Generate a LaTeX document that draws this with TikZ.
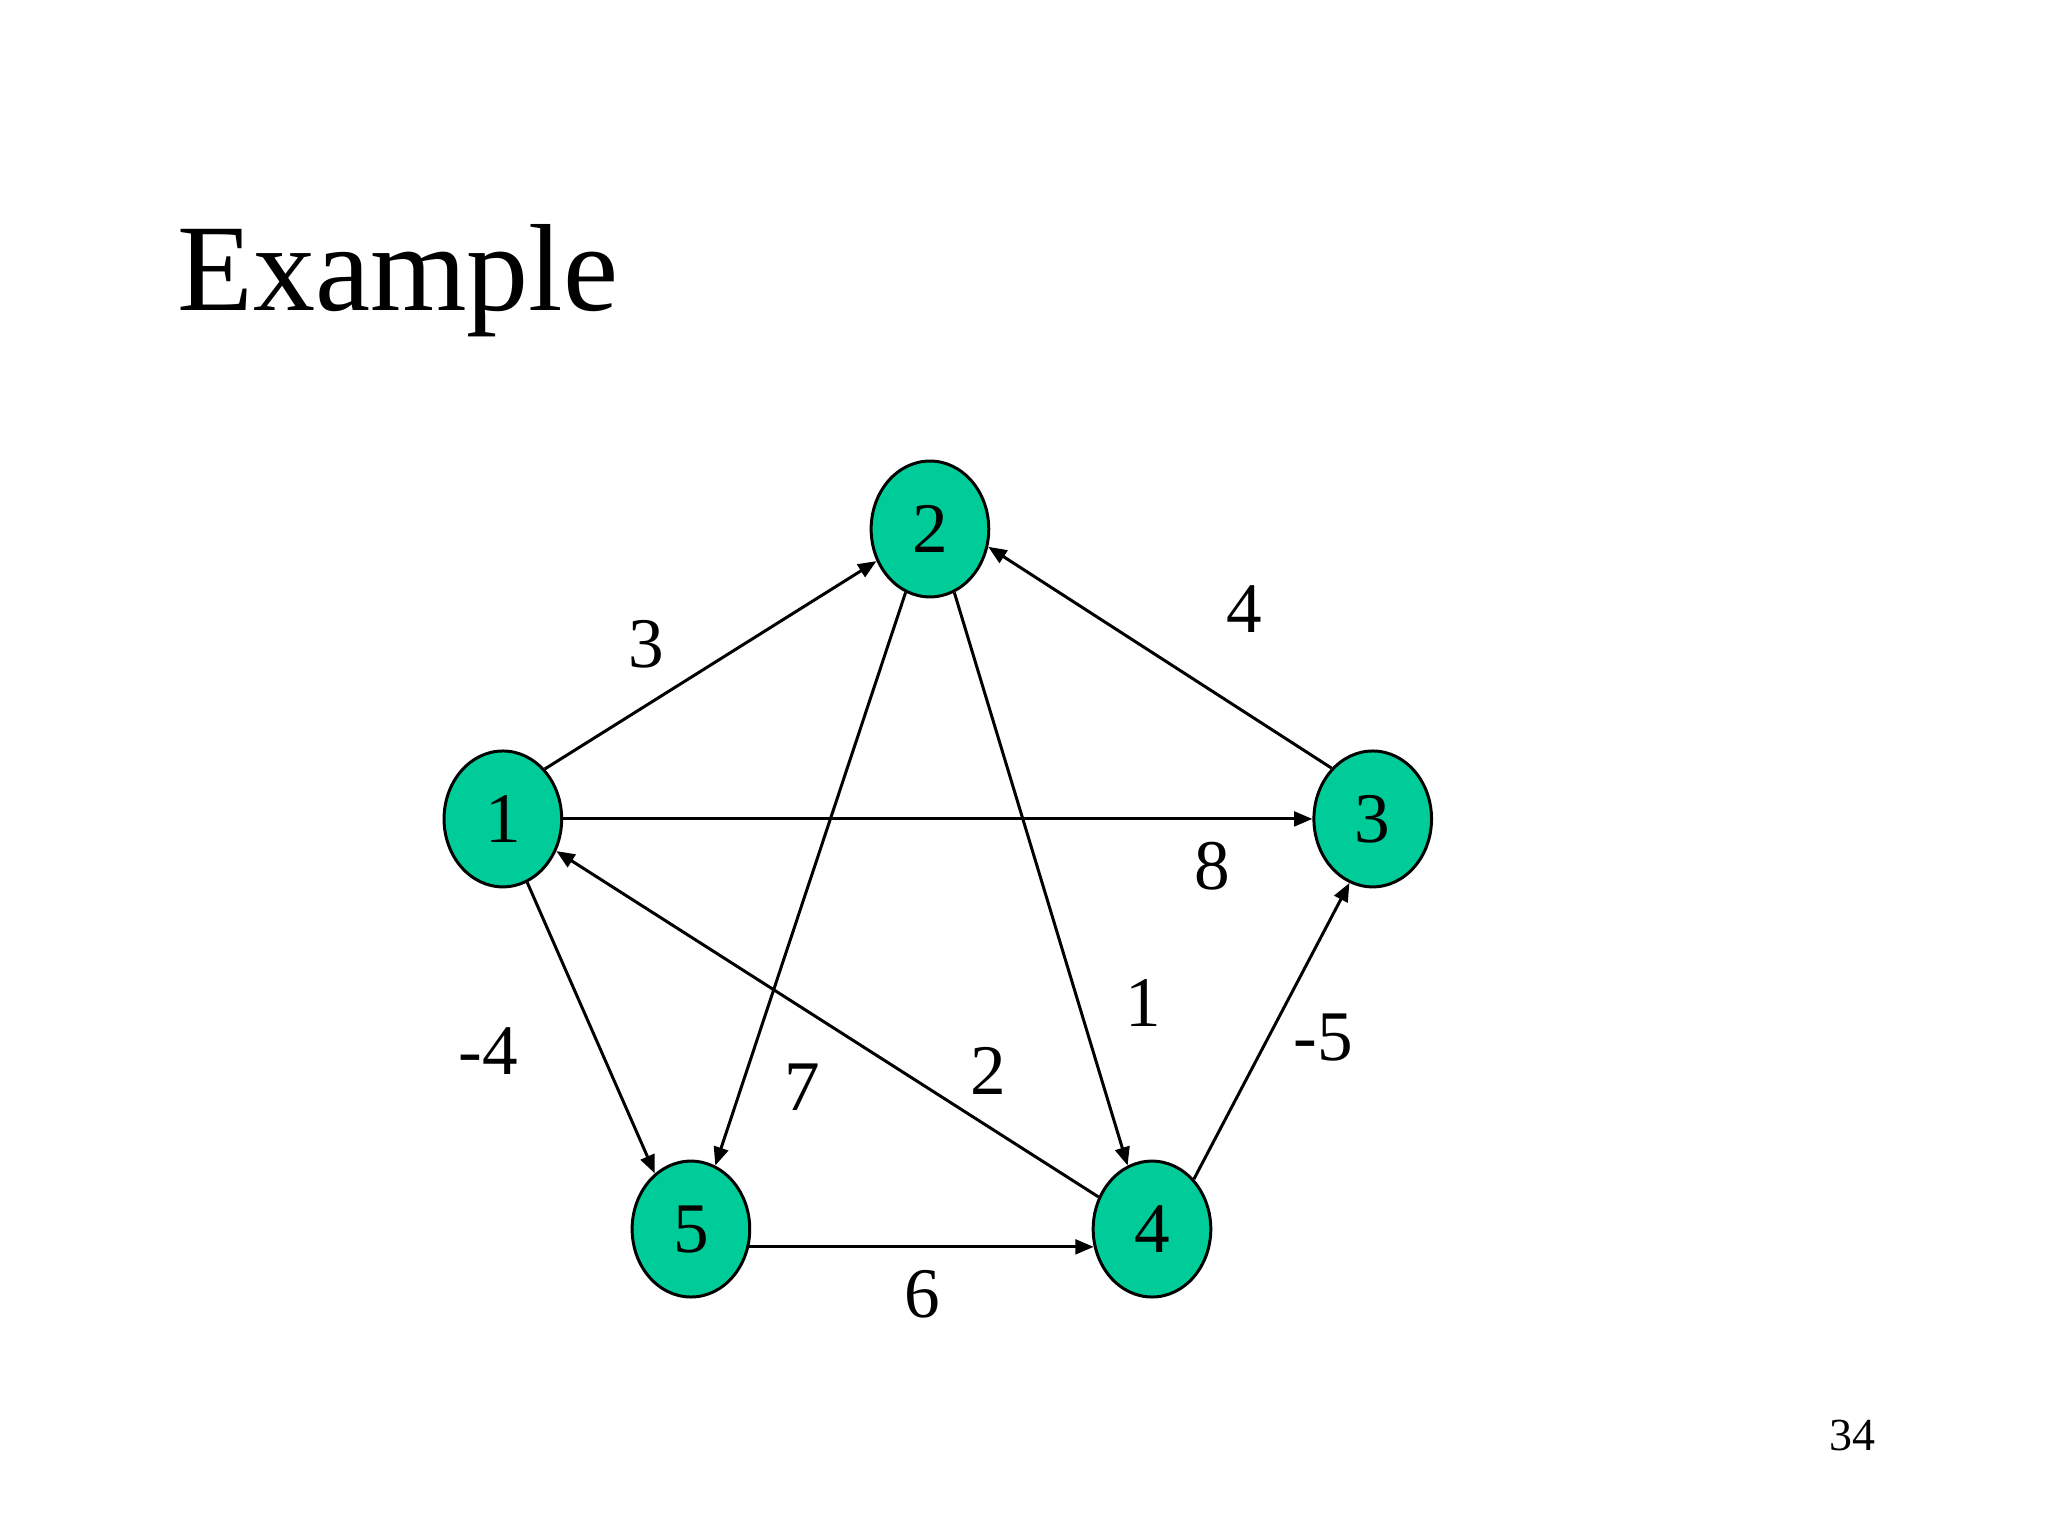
\documentclass[tikz,border=0pt]{standalone}
\usepackage{fontspec}
\setmainfont{Liberation Serif}
\usetikzlibrary{arrows.meta,shapes.geometric}
\definecolor{vertexgreen}{RGB}{0,204,153}
\tikzset{
  vertex/.style={draw,line width=0.65pt,fill=vertexgreen,ellipse,minimum width=0.9cm,minimum height=1.04cm,inner sep=0pt,font=\fontsize{15.5}{16}\selectfont},
  wlabel/.style={inner sep=0pt,font=\fontsize{15.5}{16}\selectfont},
  arc/.style={line width=0.65pt,-{Triangle[length=4pt,width=3.2pt]}}
}
\begin{document}
\begin{tikzpicture}[x=0.01cm,y=-0.01cm]
        \useasboundingbox (0,0) rectangle (1568,1176);
        %% Title
        \node[anchor=base west,inner sep=0pt,font=\fontsize{27}{30}\selectfont] (title) at (135,238) {Example};
        %% Vertices
        \node[vertex] (v1) at (385,627) {1};
        \node[vertex] (v2) at (712,405) {2};
        \node[vertex] (v3) at (1051,627) {3};
        \node[vertex] (v4) at (882,941) {4};
        \node[vertex] (v5) at (529,941) {5};
        %% Arcs
        \draw[arc] (v1.50) -- (v2.211);
        \draw[arc] (v3.129) -- (v2.-17);
        \draw[arc] (v1.east) -- (v3.west);
        \draw[arc] (v2.249) -- (v5.69);
        \draw[arc] (v2.-69) -- (v4.111);
        \draw[arc] (v4.149) -- (v1.-31);
        \draw[arc] (v1.-69) -- (v5.123);
        \draw[arc] (v5.-17) -- (v4.197);
        \draw[arc] (v4.50) -- (v3.250);
        %% Weights
        \node[wlabel] (w12) at (495,493) {3};
        \node[wlabel] (w32) at (953,466) {4};
        \node[wlabel] (w13) at (928,663) {8};
        \node[wlabel] (w24) at (875,768) {1};
        \node[wlabel] (w43) at (1013,794) {-5};
        \node[wlabel] (w15) at (374,805) {-4};
        \node[wlabel] (w25) at (614,832) {7};
        \node[wlabel] (w41) at (757,820) {2};
        \node[wlabel] (w54) at (706,991) {6};
        %% Page number
        \node[inner sep=0pt,font=\fontsize{10}{12}\selectfont] (page) at (1418,1099) {34};
    \end{tikzpicture}
\end{document}
